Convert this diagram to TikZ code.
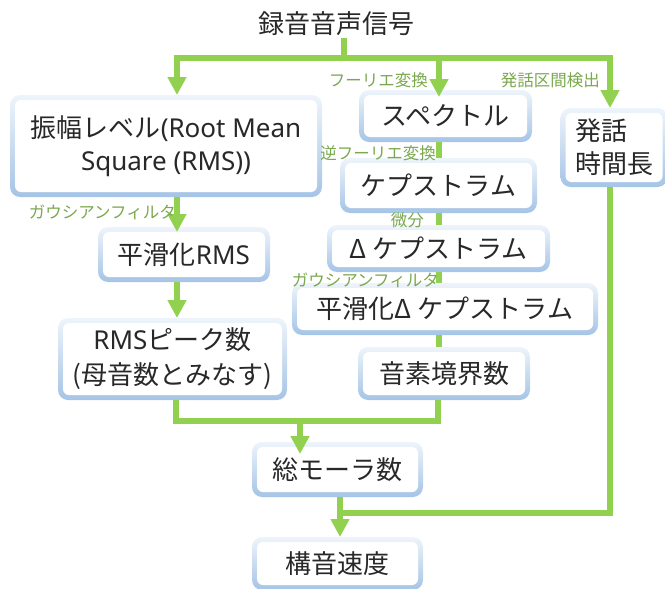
\documentclass[tikz,border=0pt]{standalone}
\usepackage{fontspec}
\setmainfont{Noto Sans CJK JP}
\newfontfamily\latinfont{Noto Sans}
\usetikzlibrary{arrows.meta,backgrounds}
\definecolor{lgreen}{RGB}{146,208,80}
\definecolor{labgreen}{RGB}{122,168,78}
\definecolor{txt}{RGB}{40,40,40}
\definecolor{ringtop}{RGB}{238,244,251}
\definecolor{ringbot}{RGB}{165,196,230}
\begin{document}
\begin{tikzpicture}[x=1pt,y=-1pt,
  ln/.style={draw=lgreen,line width=6pt},
  arr/.style={ln,-{Triangle[width=18pt,length=18pt]}},
  box/.style={fill=white,rounded corners=6pt,inner sep=0pt,outer sep=5pt,
    align=center,text=txt,font=\fontsize{26}{33}\selectfont},
  lab/.style={anchor=east,inner sep=0pt,text=labgreen,font=\fontsize{16.5}{18}\selectfont}]
\useasboundingbox (0,0) rectangle (665,589);

% title
\node[inner sep=2pt,text=txt,font=\fontsize{26}{30}\selectfont] (title) at (336,24) {録音音声信号};

% boxes
\node[box,minimum width=302pt,minimum height=92pt] (rms) at (166,146) {振幅レベル{\latinfont(Root Mean}\\{\latinfont Square (RMS))}};
\node[box,minimum width=163pt,minimum height=42pt] (spec) at (445.5,116) {スペクトル};
\node[box,minimum width=97pt,minimum height=69pt,text width=78pt,align=left] (hat) at (614,147.5) {発話\\時間長};
\node[box,minimum width=187pt,minimum height=45pt] (kep) at (438.5,185.5) {ケプストラム};
\node[box,minimum width=213pt,minimum height=37pt] (dkep) at (438.5,248.5) {Δ ケプストラム};
\node[box,minimum width=296pt,minimum height=42pt] (sdkep) at (445,309) {平滑化Δ ケプストラム};
\node[box,minimum width=162pt,minimum height=43pt] (phon) at (444,373.5) {音素境界数};
\node[box,minimum width=162pt,minimum height=45pt] (srms) at (184,254.5) {平滑化{\latinfont RMS}};
\node[box,minimum width=219pt,minimum height=72pt,font=\fontsize{26}{35}\selectfont] (peak) at (172.5,359) {{\latinfont RMS}ピーク数\\(母音数とみなす)};
\node[box,minimum width=161pt,minimum height=45pt] (mora) at (337.5,469.5) {総モーラ数};
\node[box,minimum width=161pt,minimum height=43pt] (speed) at (337.5,563.5) {構音速度};

\begin{pgfonlayer}{background}
\foreach \n in {rms,spec,hat,kep,dkep,sdkep,phon,srms,peak,mora,speed}{
  \shade[top color=ringtop,bottom color=ringbot,rounded corners=10pt]
    (\n.north west) rectangle (\n.south east);
}
\end{pgfonlayer}

% junction coordinates
\coordinate (jm) at (344,58);
\coordinate (jl) at (177,58);
\coordinate (jc) at (439,58);
\coordinate (jr) at (610,58);
\coordinate (bl) at (176,421);
\coordinate (br) at (438,421);
\coordinate (bm) at (300,421);
\coordinate (cs) at (340,513);
\coordinate (ch) at (610,513);

% top distribution
\draw[ln] (title.south -| jm) -- (jm);
\draw[arr] (jc) -- (jl) -- (rms.north -| jl);
\draw[arr] (jc) -- (jr) -- (hat.north -| jr);
\draw[arr,shorten >=-7pt] (jc) -- (spec.north -| jc);

% left column
\draw[arr,shorten >=-5pt] (rms.south -| jl) -- (srms.north -| jl);
\draw[arr] (srms.south -| jl) -- (peak.north -| jl);

% middle column
\draw[ln] (spec.south -| jc) -- (kep.north -| jc);
\draw[ln] (kep.south -| jc) -- (dkep.north -| jc);
\draw[ln] (dkep.south -| jc) -- (sdkep.north -| jc);
\draw[ln] (sdkep.south -| jc) -- (phon.north -| jc);

% merge to mora
\draw[ln] (peak.south -| bl) -- (bl) -- (br) -- (phon.south -| br);
\draw[arr,shorten >=-12pt] (bm) -- (mora.north -| bm);

% to speed
\draw[ln] (hat.south -| ch) -- (ch) -- (cs);
\draw[arr] (mora.south -| cs) -- (speed.north -| cs);

% labels
\node[lab] (l1) at (428,80) {フーリエ変換};
\node[lab] (l2) at (600,80) {発話区間検出};
\node[lab] (l3) at (436,153) {逆フーリエ変換};
\node[lab] (l4) at (424,220) {微分};
\node[lab] (l5) at (439,280) {ガウシアンフィルタ};
\node[lab] (l6) at (176,212) {ガウシアンフィルタ};
\end{tikzpicture}
\end{document}
